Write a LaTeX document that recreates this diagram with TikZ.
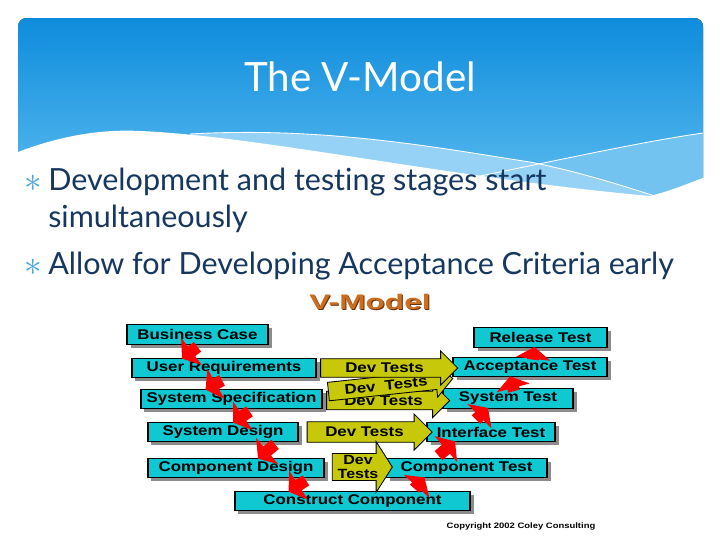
\documentclass[tikz,border=0pt]{standalone}
\usepackage{fontspec}
\usetikzlibrary{shapes.arrows,shadows,arrows.meta,calc}

\newfontfamily\slidefont[Ligatures=NoCommon]{Lato}
\newfontfamily\vfont[FakeStretch=1.2]{Liberation Sans}
\newfontfamily\vheadfont[FakeStretch=1.5]{Liberation Sans}

\definecolor{hdrtop}{RGB}{14,140,220}
\definecolor{hdrbot}{RGB}{95,190,240}
\definecolor{bandA}{RGB}{150,210,245}
\definecolor{bandB}{RGB}{115,195,240}
\definecolor{inktext}{RGB}{22,55,95}
\definecolor{bulletblue}{RGB}{70,165,220}
\definecolor{vcyan}{RGB}{15,200,210}
\definecolor{vyellow}{RGB}{200,200,10}
\definecolor{vorange}{RGB}{205,110,30}
\definecolor{vbrown}{RGB}{100,50,15}

\tikzset{
  slidetext/.style={font=\slidefont\fontsize{21.7}{26}\selectfont, text=inktext, anchor=base west, inner sep=0pt},
  bulletmark/.style={font=\fontsize{26}{28}\selectfont, text=bulletblue, inner sep=0pt},
  stage/.style={draw=black, line width=0.8pt, fill=vcyan, minimum height=0.49cm, inner sep=0pt,
    font=\vfont\bfseries\fontsize{10}{12}\selectfont,
    drop shadow={shadow xshift=2.5pt, shadow yshift=-2.5pt, fill=black!45, opacity=1}},
  devtest/.style={shape=single arrow, draw=black, line width=0.6pt, fill=vyellow,
    font=\vfont\bfseries\fontsize{10}{12}\selectfont, inner xsep=2pt, inner ysep=2.8pt,
    single arrow head extend=5.5pt, single arrow tip angle=90},
  flow/.style={draw=red, line width=8.5pt, -{Triangle[length=8.5pt,width=24pt]}},
}

\begin{document}
\begin{tikzpicture}[x=0.025cm,y=-0.025cm]
\useasboundingbox (0,0) rectangle (720,540);

% Header
\fill[top color=hdrtop,bottom color=hdrbot,rounded corners=6pt] (18,18) rectangle (703,205);
\fill[bandB] (470,178) .. controls (560,160) and (640,142) .. (703,133) -- (703,215) -- (470,215) -- cycle;
\fill[bandA] (190,134) .. controls (330,126) and (450,150) .. (530,162) .. controls (580,172) and (620,185) .. (655,196) -- (655,215) -- (190,215) -- cycle;
\fill[white] (18,152) .. controls (60,136) and (100,129) .. (140,131) .. controls (260,136) and (450,178) .. (650,196) .. controls (670,191) and (690,183) .. (705,177) -- (705,220) -- (16,220) -- cycle;
\draw[white,line width=0.6pt] (190,134) .. controls (330,126) and (450,150) .. (530,162) .. controls (580,172) and (620,185) .. (655,196);
\draw[white,line width=0.6pt] (470,178) .. controls (560,160) and (640,142) .. (703,133);
\node[font=\slidefont\fontsize{28.7}{34}\selectfont, text=white] (title) at (360,77) {The V-Model};

% Bullets
\node[bulletmark] (m1) at (33,183) {$\ast$};
\node[slidetext] (b1) at (48,190) {Development and testing stages start};
\node[slidetext] (b1b) at (48,227) {simultaneously};
\node[bulletmark] (m2) at (33,267) {$\ast$};
\node[slidetext] (b2) at (48,274) {Allow for Developing Acceptance Criteria early};

% V-Model heading
\node[font=\vheadfont\bfseries\fontsize{15}{18}\selectfont, text=vbrown] (vshade) at (371,303) {V-Model};
\node[font=\vheadfont\bfseries\fontsize{15}{18}\selectfont, text=vorange] (vhead) at (370,302) {V-Model};

% Development side
\node[stage, minimum width=3.525cm] (bc) at (197.5,334.5) {Business Case};
\node[stage, minimum width=4.6cm] (ur) at (224,368) {User Requirements};
\node[stage, minimum width=4.525cm] (ss) at (231.5,399) {System Specification};
\node[stage, minimum width=3.75cm] (sd) at (223,432) {System Design};
\node[stage, minimum width=4.4cm] (cd) at (236,468) {Component Design};
\node[stage, minimum width=5.875cm] (cc) at (352.5,501) {Construct Component};

% Testing side
\node[stage, minimum width=4.025cm] (ct) at (466.5,468) {Component Test};
\node[stage, minimum width=3.2cm] (it) at (491,432) {Interface Test};
\node[stage, minimum width=3.25cm] (st) at (508,398.5) {System Test};
\node[stage, minimum width=3.85cm] (at) at (530,367) {Acceptance Test};
\node[stage, minimum width=3.325cm] (rt) at (540.5,337.5) {Release Test};

% Dev tests arrows
\node[devtest, minimum height=3.075cm] (dt3) at (383.5,400.5) {Dev Tests};
\node[devtest, minimum height=3.125cm, rotate=6] (dt2) at (386,385.5) {Dev\ \ Tests};
\node[devtest, minimum height=3.425cm] (dt1) at (384.5,368) {Dev Tests};
\node[devtest, minimum height=3.125cm, inner ysep=3.5pt] (dt4) at (364.5,432) {Dev Tests};
\node[devtest, minimum height=1.5cm, align=center, inner ysep=1pt, single arrow head extend=8.5pt,
  single arrow tip angle=115, font=\vfont\bfseries\fontsize{9.5}{10}\selectfont] (dt5) at (358,467) {Dev\\Tests};

% Red flow arrows down
\draw[flow] ($(bc.south)+(0,2)$) -- ($(ur.north)+(-42,1)$);
\draw[flow] ($(ur.south)+(-2,2)$) -- ($(ss.north)+(-26,1)$);
\draw[flow] ($(ss.south)+(18,2)$) -- ($(sd.north)+(10,1)$);
\draw[flow] ($(sd.south)+(52,2)$) -- ($(cd.north)+(22,1)$);
\draw[flow] ($(cd.south)+(70,2)$) -- ($(cc.north)+(-64,1)$);

% Red flow arrows up
\draw[flow] ($(cc.north)+(62,-2)$) -- ($(ct.south)+(-42,-1)$);
\draw[flow] ($(ct.north)+(-28,-2)$) -- ($(it.south)+(-36,-1)$);
\draw[flow] ($(it.north)+(-15,-2)$) -- ($(st.south)+(-20,-1)$);
\draw[flow] ($(st.north)+(6,3)$) -- ($(at.south)+(-20,-1)$);
\draw[flow] ($(at.north)+(3,3)$) -- ($(rt.south)+(-6,-1)$);

% Copyright
\node[font=\vfont\bfseries\fontsize{5.6}{6}\selectfont] (copy) at (521,526) {Copyright 2002 Coley Consulting};
\end{tikzpicture}
\end{document}
